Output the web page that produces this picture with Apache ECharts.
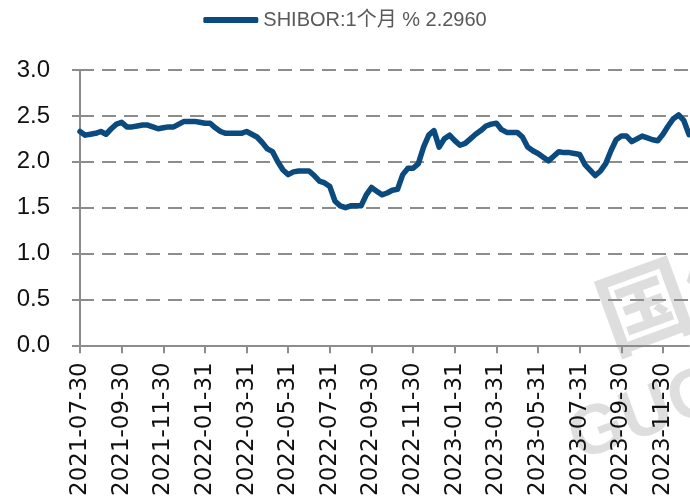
<!DOCTYPE html>
<html>
<head>
<meta charset="utf-8">
<script src="https://cdn.jsdelivr.net/npm/echarts@6/dist/echarts.min.js"></script>
<style>
  html, body { margin: 0; padding: 0; background: #fff; }
  #chart { width: 690px; height: 499px; }
</style>
</head>
<body>
<div id="chart"></div>
<script>
// 日期（约每周一个点，标签只显示双月末）
const dates = [
  '2021-07-30', '2021-08-07', '2021-08-15', '2021-08-23', '2021-08-31', '2021-09-07', '2021-09-15', '2021-09-22',
  '2021-09-30', '2021-10-08', '2021-10-15', '2021-10-23', '2021-10-31', '2021-11-07', '2021-11-15', '2021-11-22',
  '2021-11-30', '2021-12-08', '2021-12-15', '2021-12-23', '2021-12-31', '2022-01-08', '2022-01-15', '2022-01-23',
  '2022-01-31', '2022-02-07', '2022-02-14', '2022-02-21', '2022-02-28', '2022-03-07', '2022-03-15', '2022-03-23',
  '2022-03-31', '2022-04-08', '2022-04-15', '2022-04-23', '2022-04-30', '2022-05-08', '2022-05-15', '2022-05-23',
  '2022-05-31', '2022-06-08', '2022-06-15', '2022-06-23', '2022-06-30', '2022-07-08', '2022-07-15', '2022-07-23',
  '2022-07-31', '2022-08-08', '2022-08-15', '2022-08-23', '2022-08-31', '2022-09-07', '2022-09-15', '2022-09-22',
  '2022-09-30', '2022-10-08', '2022-10-15', '2022-10-23', '2022-10-31', '2022-11-07', '2022-11-15', '2022-11-22',
  '2022-11-30', '2022-12-08', '2022-12-15', '2022-12-23', '2022-12-31', '2023-01-08', '2023-01-15', '2023-01-23',
  '2023-01-31', '2023-02-07', '2023-02-14', '2023-02-21', '2023-02-28', '2023-03-07', '2023-03-15', '2023-03-23',
  '2023-03-31', '2023-04-08', '2023-04-15', '2023-04-23', '2023-04-30', '2023-05-08', '2023-05-15', '2023-05-23',
  '2023-05-31', '2023-06-08', '2023-06-15', '2023-06-23', '2023-06-30', '2023-07-08', '2023-07-15', '2023-07-23',
  '2023-07-31', '2023-08-08', '2023-08-15', '2023-08-23', '2023-08-31', '2023-09-07', '2023-09-15', '2023-09-22',
  '2023-09-30', '2023-10-08', '2023-10-15', '2023-10-23', '2023-10-31', '2023-11-07', '2023-11-15', '2023-11-22',
  '2023-11-30', '2023-12-07', '2023-12-14', '2023-12-21', '2023-12-28', '2024-01-05'
]

// SHIBOR:1个月 (%)
const shibor1m = [
  2.33, 2.29, 2.30, 2.31, 2.33, 2.30, 2.36, 2.41,
  2.43, 2.38, 2.38, 2.39, 2.40, 2.40, 2.38, 2.36,
  2.37, 2.38, 2.38, 2.41, 2.44, 2.44, 2.44, 2.43,
  2.42, 2.42, 2.37, 2.33, 2.31, 2.31, 2.31, 2.31,
  2.33, 2.30, 2.27, 2.21, 2.14, 2.11, 2.00, 1.91,
  1.86, 1.89, 1.90, 1.90, 1.90, 1.85, 1.79, 1.77,
  1.73, 1.57, 1.52, 1.50, 1.52, 1.52, 1.52, 1.64,
  1.72, 1.68, 1.64, 1.66, 1.69, 1.70, 1.86, 1.93,
  1.93, 1.98, 2.16, 2.29, 2.34, 2.16, 2.25, 2.29,
  2.23, 2.18, 2.20, 2.25, 2.30, 2.34, 2.39, 2.41,
  2.42, 2.35, 2.32, 2.32, 2.32, 2.27, 2.16, 2.12,
  2.09, 2.05, 2.01, 2.06, 2.11, 2.10, 2.10, 2.09,
  2.08, 1.97, 1.91, 1.85, 1.90, 1.98, 2.12, 2.24,
  2.28, 2.28, 2.22, 2.25, 2.28, 2.26, 2.24, 2.23,
  2.30, 2.39, 2.47, 2.51, 2.45, 2.296
]

const seriesName = 'SHIBOR:1个月 % 2.2960'
const lineColor = '#0b4a7f'
const axisColor = '#8c8c8c'
const fontFamily = "'Liberation Sans', 'Noto Sans CJK SC', sans-serif"

const chart = echarts.init(document.getElementById('chart'))

const option = {
  animation: false,
  // 背景水印
  graphic: [
    {
      type: 'text',
      left: 585,
      top: 215,
      rotation: 0.35,
      z: -10,
      silent: true,
      style: {
        text: '国信',
        fontSize: 92,
        fontWeight: 'bold',
        fontFamily: "'Noto Sans CJK SC', sans-serif",
        fill: 'rgba(0, 0, 0, 0.13)'
      }
    },
    {
      type: 'text',
      left: 560,
      top: 355,
      rotation: 0.35,
      z: -10,
      silent: true,
      style: {
        text: 'GUO',
        fontSize: 70,
        fontWeight: 'bold',
        fontFamily: fontFamily,
        fill: 'rgba(0, 0, 0, 0.13)'
      }
    }
  ],
  grid: {
    left: 80,
    right: 1,
    top: 70,
    bottom: 152
  },
  legend: {
    top: 5,
    left: 'center',
    icon: 'roundRect',
    itemWidth: 55,
    itemHeight: 6,
    itemGap: 4,
    textStyle: {
      fontSize: 20,
      color: '#595959',
      fontFamily: fontFamily
    },
    data: [seriesName]
  },
  xAxis: {
    type: 'category',
    boundaryGap: false,
    data: dates,
    axisLine: {
      lineStyle: { color: axisColor, width: 2 }
    },
    axisTick: {
      show: true,
      interval: 7,
      length: 8,
      lineStyle: { color: axisColor, width: 2 }
    },
    axisLabel: {
      interval: 7,
      rotate: 90,
      margin: 17,
      fontSize: 23,
      color: '#111',
      fontFamily: "'DejaVu Sans', sans-serif"
    },
    splitLine: { show: false }
  },
  yAxis: {
    type: 'value',
    min: 0,
    max: 3,
    interval: 0.5,
    axisLine: {
      show: true,
      lineStyle: { color: axisColor, width: 2 }
    },
    axisTick: {
      show: true,
      length: 8,
      lineStyle: { color: axisColor, width: 2 }
    },
    axisLabel: {
      margin: 30,
      fontSize: 24,
      color: '#111',
      fontFamily: fontFamily,
      formatter(value) {
        return value.toFixed(1)
      }
    },
    splitLine: {
      lineStyle: {
        color: axisColor,
        width: 2,
        type: [14, 8]
      }
    }
  },
  series: [
    {
      name: seriesName,
      type: 'line',
      data: shibor1m,
      showSymbol: false,
      symbol: 'none',
      smooth: false,
      lineStyle: {
        color: lineColor,
        width: 5.5,
        join: 'round',
        cap: 'round'
      },
      itemStyle: { color: lineColor }
    }
  ]
}

chart.setOption(option)
</script>
</body>
</html>
